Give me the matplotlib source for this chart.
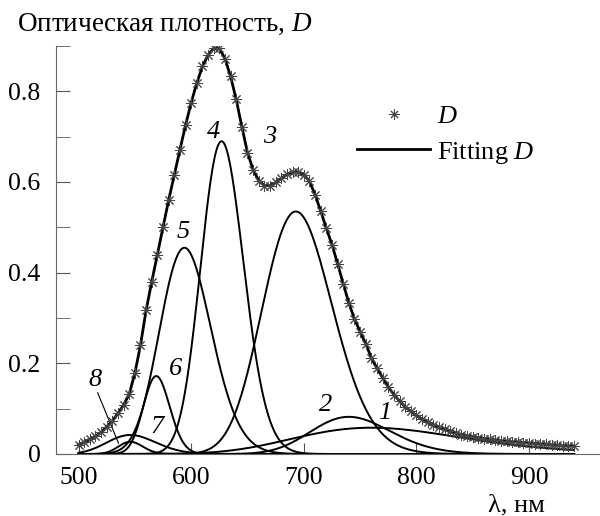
import numpy as np
import matplotlib.pyplot as plt

plt.rcParams['font.family'] = ['Liberation Serif', 'DejaVu Serif']
plt.rcParams['mathtext.fontset'] = 'custom'
plt.rcParams['mathtext.rm'] = 'Liberation Serif'
plt.rcParams['mathtext.it'] = 'Liberation Serif:italic'

# измеренная оптическая плотность, шаг 5 нм
wl = np.arange(500, 945, 5)
D = [0.020, 0.026, 0.032, 0.039, 0.048, 0.060, 0.073, 0.090, 0.108, 0.132,
     0.178, 0.240, 0.317, 0.380, 0.440, 0.500, 0.560, 0.615, 0.671, 0.725,
     0.775, 0.818, 0.855, 0.880, 0.895, 0.895, 0.872, 0.833, 0.782, 0.722,
     0.665, 0.627, 0.603, 0.592, 0.592, 0.599, 0.608, 0.617, 0.622, 0.622,
     0.616, 0.602, 0.572, 0.536, 0.498, 0.462, 0.420, 0.376, 0.333, 0.298,
     0.270, 0.243, 0.212, 0.189, 0.168, 0.148, 0.131, 0.117, 0.104, 0.094,
     0.085, 0.077, 0.070, 0.064, 0.059, 0.055, 0.051, 0.047, 0.043, 0.040,
     0.038, 0.036, 0.034, 0.032, 0.031, 0.029, 0.028, 0.027, 0.026, 0.025,
     0.024, 0.023, 0.022, 0.021, 0.020, 0.019, 0.018, 0.018, 0.017]

# полосы разложения (гауссианы по энергии)
band_no = ['1', '2', '3', '4', '5', '6', '7', '8']
band_nm = [760, 740, 693, 627, 594, 569, 546, 546]
band_height = [0.058, 0.082, 0.535, 0.69, 0.455, 0.172, 0.042, 0.027]
band_width_ev = [0.16, 0.08, 0.08, 0.06, 0.08, 0.045, 0.09, 0.045]

# подписи полос (x, y в координатах данных)
label_x = [772, 719, 670, 620, 593, 586, 570, 515]
label_y = [0.090, 0.108, 0.70, 0.71, 0.49, 0.187, 0.06, 0.163]

lam = np.linspace(500, 940, 500)

fig = plt.figure(figsize=(6, 5.16), dpi=100)
ax = fig.add_axes([56/600, 62/516, 544/600, 408/516])

for c, h, w in zip(band_nm, band_height, band_width_ev):
    band = h * np.exp(-(1240/lam - 1240/c)**2 / (2*w**2))
    ax.plot(lam, band, color='black', lw=1.4)

ax.plot(wl, D, color='black', lw=2.0, label='Fitting $D$', zorder=3)
ax.plot(wl, D, ls='none', marker=(8, 2, 0), ms=8, mew=0.7, color='#444444',
        label='$D$', zorder=4)

for t, x, y in zip(band_no, label_x, label_y):
    ax.text(x, y, t, fontsize=19, style='italic', ha='center', va='center')
ax.plot([517, 535.5], [0.135, 0.024], color='black', lw=0.8)

ax.set_xlim(480, 963)
ax.set_ylim(0, 0.9)
ax.set_xticks([500, 600, 700, 800, 900])
ax.set_yticks([0, 0.2, 0.4, 0.6, 0.8])
ax.set_yticklabels(['0', '0.2', '0.4', '0.6', '0.8'])
ax.set_yticks([0.1, 0.3, 0.5, 0.7, 0.9], minor=True)
ax.tick_params(axis='both', which='both', direction='in', color='#555555',
               labelsize=18.5)
ax.tick_params(axis='y', which='both', length=10, pad=11)
ax.tick_params(axis='x', which='major', length=8, pad=9)
for s in ['top', 'right']:
    ax.spines[s].set_visible(False)
for s in ['left', 'bottom']:
    ax.spines[s].set_color('#666666')

h, l = ax.get_legend_handles_labels()
ax.legend(h[::-1], l[::-1], loc='upper left', bbox_to_anchor=(357/600, 1 - 105/516),
          bbox_transform=fig.transFigure, frameon=False, fontsize=19,
          borderpad=0, borderaxespad=0, handlelength=2.77, handletextpad=0.27,
          labelspacing=0.42, markerscale=0.9)

fig.text(17/600, 1 - 31/516, 'Оптическая плотность, $D$', fontsize=19.5, va='baseline')
fig.text(488/600, 5/516, 'λ, нм', fontsize=19, va='baseline')

fig.savefig('out.png')
